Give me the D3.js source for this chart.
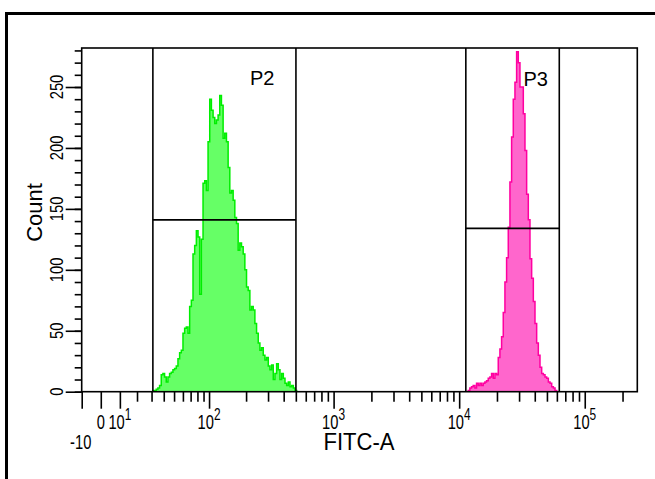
<!DOCTYPE html>
<html>
<head>
<meta charset="utf-8">
<title>FITC-A histogram</title>
<script src="https://d3js.org/d3.v7.min.js"></script>
<style>
  body { margin: 0; background: #fff; }
  text { font-family: "Liberation Sans", Arial, sans-serif; fill: #000; }
</style>
</head>
<body>
<div id="chart"></div>
<script>

// counts, one per histogram channel
var p2Counts = [1,1,2,3,5,14,15,12,8,12,15,16,18,19,21,27,32,34,48,52,53,48,70,75,113,
  120,132,127,80,125,171,173,165,205,240,231,225,220,223,227,243,235,208,212,205,
  184,163,165,157,143,138,116,122,119,113,100,86,83,67,70,67,56,48,40,34,36,30,26,
  28,21,18,22,10,15,23,18,10,15,11,7,5,8,4,5,3,1];
var p3Counts = [1,3,4,5,3,7,5,7,5,7,8,9,11,12,15,11,15,14,28,35,45,65,90,110,135,172,
  209,240,254,279,270,250,250,228,198,162,141,109,93,74,56,40,30,20,15,14,12,11,8,
  7,4,3,1];
// FITC-A range covered by each run of channels
var p2Range = [31, 508];
var p3Range = [11800, 59800];

// gates: name, FITC-A interval, level of the bar
var gateNames = ['P2', 'P3'];
var gateRanges = [[31, 501], [11300, 62700]];
var gateLevels = [141, 134];

var xMajor = [-10, 0, 10, 100, 1000, 10000, 100000];
var xLabelBase = ['-10', '0', '10', '10', '10', '10', '10'];
var xLabelExp = ['', '', '1', '2', '3', '4', '5'];
var yMajor = [0, 50, 100, 150, 200, 250];

var xMin = -10, xMax = 262143, yMax = 282;
var W = 28; // linear width of the biexponential display

var width = 655, height = 479;
var plot = { left: 81.7, right: 637.3, top: 48, bottom: 391.7 };

function T(v) { return Math.asinh(v / W); }

var xT = d3.scaleLinear().domain([T(xMin), T(xMax)]).range([plot.left, plot.right]);
var x = function (v) { return xT(T(v)); };
var y = d3.scaleLinear().domain([0, yMax]).range([plot.bottom, plot.top]);

var svg = d3.select('#chart').append('svg')
  .attr('width', width)
  .attr('height', height);

// outer panel edge
svg.append('path')
  .attr('d', 'M6.5,' + height + 'V13.5H' + width)
  .attr('fill', 'none')
  .attr('stroke', '#000')
  .attr('stroke-width', 3);

function drawHist(counts, range, fill, stroke) {
  var t0 = T(range[0]), t1 = T(range[1]);
  var step = (t1 - t0) / counts.length;
  var pts = counts.map(function (c, i) { return [t0 + i * step, c]; });
  pts.push([t1, counts[counts.length - 1]]);

  var area = d3.area()
    .curve(d3.curveStepAfter)
    .x(function (d) { return xT(d[0]); })
    .y0(y(0))
    .y1(function (d) { return y(d[1]); });
  svg.append('path')
    .attr('d', area(pts))
    .attr('fill', fill);

  var outline = [[t0, 0]].concat(pts).concat([[t1, 0]]);
  var line = d3.line()
    .curve(d3.curveStepAfter)
    .x(function (d) { return xT(d[0]); })
    .y(function (d) { return y(d[1]); });
  svg.append('path')
    .attr('d', line(outline))
    .attr('fill', 'none')
    .attr('stroke', stroke)
    .attr('stroke-width', 1.5);
}

drawHist(p2Counts, p2Range, '#66ff66', '#00ee00');
drawHist(p3Counts, p3Range, '#ff66cc', '#ff00a0');

// frame
svg.append('rect')
  .attr('x', plot.left).attr('y', plot.top)
  .attr('width', plot.right - plot.left).attr('height', plot.bottom - plot.top)
  .attr('fill', 'none')
  .attr('stroke', '#000')
  .attr('stroke-width', 1.6);

// gates
gateNames.forEach(function (name, i) {
  var g = svg.append('g').attr('stroke', '#000').attr('stroke-width', 1.6);
  var x0 = x(gateRanges[i][0]), x1 = x(gateRanges[i][1]);
  g.append('line').attr('x1', x0).attr('x2', x0).attr('y1', plot.top).attr('y2', plot.bottom);
  g.append('line').attr('x1', x1).attr('x2', x1).attr('y1', plot.top).attr('y2', plot.bottom);
  g.append('line').attr('x1', x0).attr('x2', x1)
    .attr('y1', y(gateLevels[i])).attr('y2', y(gateLevels[i]));
});
svg.append('text').attr('x', 250).attr('y', 85).attr('font-size', 20).text(gateNames[0]);
svg.append('text').attr('x', 523.5).attr('y', 86).attr('font-size', 20).text(gateNames[1]);

// x axis ticks
var xMinor = [];
[10, 100, 1000, 10000, 100000].forEach(function (d) {
  for (var k = 2; k <= 9; k++) if (k * d <= xMax) xMinor.push(k * d);
});

function styleAxis(g) {
  g.select('.domain').remove();
  g.selectAll('line').attr('stroke', '#000').attr('stroke-width', 1.6);
}

svg.append('g')
  .attr('transform', 'translate(0,' + plot.bottom + ')')
  .call(d3.axisBottom(xT).tickValues(xMinor.map(T)).tickSize(10).tickFormat(''))
  .call(styleAxis);
svg.append('g')
  .attr('transform', 'translate(0,' + plot.bottom + ')')
  .call(d3.axisBottom(xT).tickValues(xMajor.map(T)).tickSize(17).tickFormat(''))
  .call(styleAxis);

xMajor.forEach(function (v, i) {
  var lowered = v < 0;
  var g = svg.append('g')
    .attr('transform', 'translate(' + (x(v) - (lowered ? 1 : 0)) + ',' + (lowered ? 449 : 429) + ') scale(0.7,1)');
  var t = g.append('text')
    .attr('text-anchor', 'middle')
    .attr('font-size', 21)
    .text(xLabelBase[i]);
  if (xLabelExp[i]) {
    t.append('tspan').attr('dy', -9).attr('font-size', 17).text(xLabelExp[i]);
  }
});

svg.append('text')
  .attr('transform', 'translate(359,450) scale(0.92,1)')
  .attr('text-anchor', 'middle')
  .attr('font-size', 24)
  .text('FITC-A');

// y axis ticks
svg.append('g')
  .attr('transform', 'translate(' + plot.left + ',0)')
  .call(d3.axisLeft(y).tickValues(d3.range(0, yMax, 10)).tickSize(7).tickFormat(''))
  .call(styleAxis);
svg.append('g')
  .attr('transform', 'translate(' + plot.left + ',0)')
  .call(d3.axisLeft(y).tickValues(yMajor).tickSize(16).tickFormat(''))
  .call(styleAxis);

yMajor.forEach(function (v) {
  svg.append('text')
    .attr('transform', 'translate(63,' + y(v) + ') rotate(-90) scale(0.8,1)')
    .attr('text-anchor', 'middle')
    .attr('font-size', 18.5)
    .text(v);
});

svg.append('text')
  .attr('transform', 'translate(41.7,212.5) rotate(-90)')
  .attr('text-anchor', 'middle')
  .attr('font-size', 22)
  .text('Count');

</script>
</body>
</html>
